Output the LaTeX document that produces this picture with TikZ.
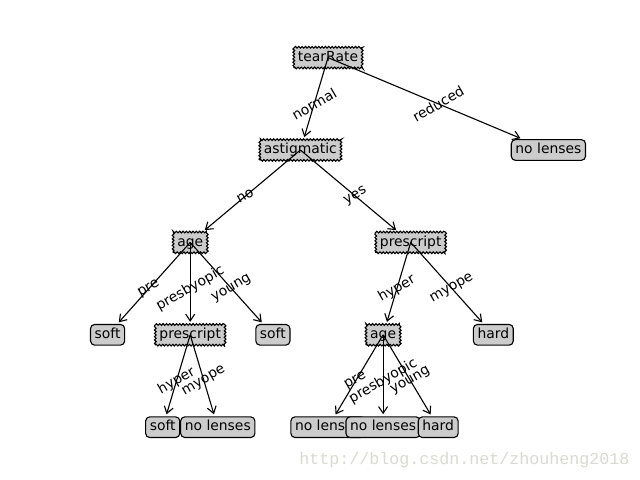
\documentclass[tikz,border=0pt]{standalone}
\usepackage{fontspec}
\setmainfont{DejaVu Sans}
\newfontfamily\wmfont{Liberation Mono}
\usetikzlibrary{decorations.pathmorphing,arrows.meta}
\definecolor{boxgray}{RGB}{204,204,204}
\definecolor{wmgray}{RGB}{218,218,210}
\begin{document}
\begin{tikzpicture}[x=0.72pt,y=-0.72pt,
  every node/.style={font=\fontsize{10}{12}\selectfont},
  decision/.style={draw, line width=0.8pt, fill=boxgray, inner xsep=3pt, inner ysep=2.8pt,
    text height=7.3pt, text depth=2pt, decorate,
    decoration={zigzag, segment length=2.4pt, amplitude=0.6pt}},
  leaf/.style={draw, line width=0.8pt, fill=boxgray, rounded corners=3pt, inner xsep=3pt,
    inner ysep=2.8pt, text height=7.3pt, text depth=2pt},
  edge/.style={line width=0.8pt, -{Straight Barb[length=4.8pt,width=6.5pt]}, shorten >=1.5pt},
  lbl/.style={rotate=30, inner sep=0pt}]
\useasboundingbox (0,0) rectangle (640,480);
\fill[white] (0,0) rectangle (640,480);
% nodes
\node[decision] (tear) at (328,57.6) {tearRate};
\node[leaf] (nl1) at (548.4,150) {no lenses};
\node[decision] (astig) at (300.4,150) {astigmatic};
\node[decision] (ageL) at (190.2,242.4) {age};
\node[decision] (presR) at (410.7,242.4) {prescript};
\node[leaf] (soft1) at (107.6,334.8) {soft};
\node[decision] (presL) at (190.2,334.8) {prescript};
\node[leaf] (soft2) at (272.9,334.8) {soft};
\node[decision] (ageR) at (383.1,334.8) {age};
\node[leaf] (hard1) at (493.3,334.8) {hard};
\node[leaf] (soft3) at (162.7,427.2) {soft};
\node[leaf] (nl2) at (217.8,427.2) {no lenses};
\node[leaf] (nl3) at (328,427.2) {no lenses};
\node[leaf] (nl4) at (383.1,427.2) {no lenses};
\node[leaf] (hard2) at (438.2,427.2) {hard};
% edges
\draw[edge] (tear.center) -- (astig);
\draw[edge] (tear.center) -- (nl1);
\draw[edge] (astig.center) -- (ageL);
\draw[edge] (astig.center) -- (presR);
\draw[edge] (ageL.center) -- (soft1);
\draw[edge] (ageL.center) -- (presL);
\draw[edge] (ageL.center) -- (soft2);
\draw[edge] (presR.center) -- (ageR);
\draw[edge] (presR.center) -- (hard1);
\draw[edge] (presL.center) -- (soft3);
\draw[edge] (presL.center) -- (nl2);
\draw[edge] (ageR.center) -- (nl3);
\draw[edge] (ageR.center) -- (nl4);
\draw[edge] (ageR.center) -- (hard2);
% labels
\node[lbl] (l1) at (314.2,103.8) {normal};
\node[lbl] (l2) at (438.2,103.8) {reduced};
\node[lbl] (l3) at (245.3,196.2) {no};
\node[lbl] (l4) at (355.6,196.2) {yes};
\node[lbl] (l5) at (148.9,288.6) {pre};
\node[lbl] (l6) at (190.2,288.6) {presbyopic};
\node[lbl] (l7) at (231.6,288.6) {young};
\node[lbl] (l8) at (396.9,288.6) {hyper};
\node[lbl] (l9) at (452,288.6) {myope};
\node[lbl] (l10) at (176.5,381) {hyper};
\node[lbl] (l11) at (204,381) {myope};
\node[lbl] (l12) at (355.6,381) {pre};
\node[lbl] (l13) at (383.1,381) {presbyopic};
\node[lbl] (l14) at (410.7,381) {young};
% watermark
\node[anchor=west, inner sep=0pt, text=wmgray, font=\wmfont\fontsize{12}{14}\selectfont] (wm) at (299,460) {http://blog.csdn.net/zhouheng2018};
\end{tikzpicture}
\end{document}
